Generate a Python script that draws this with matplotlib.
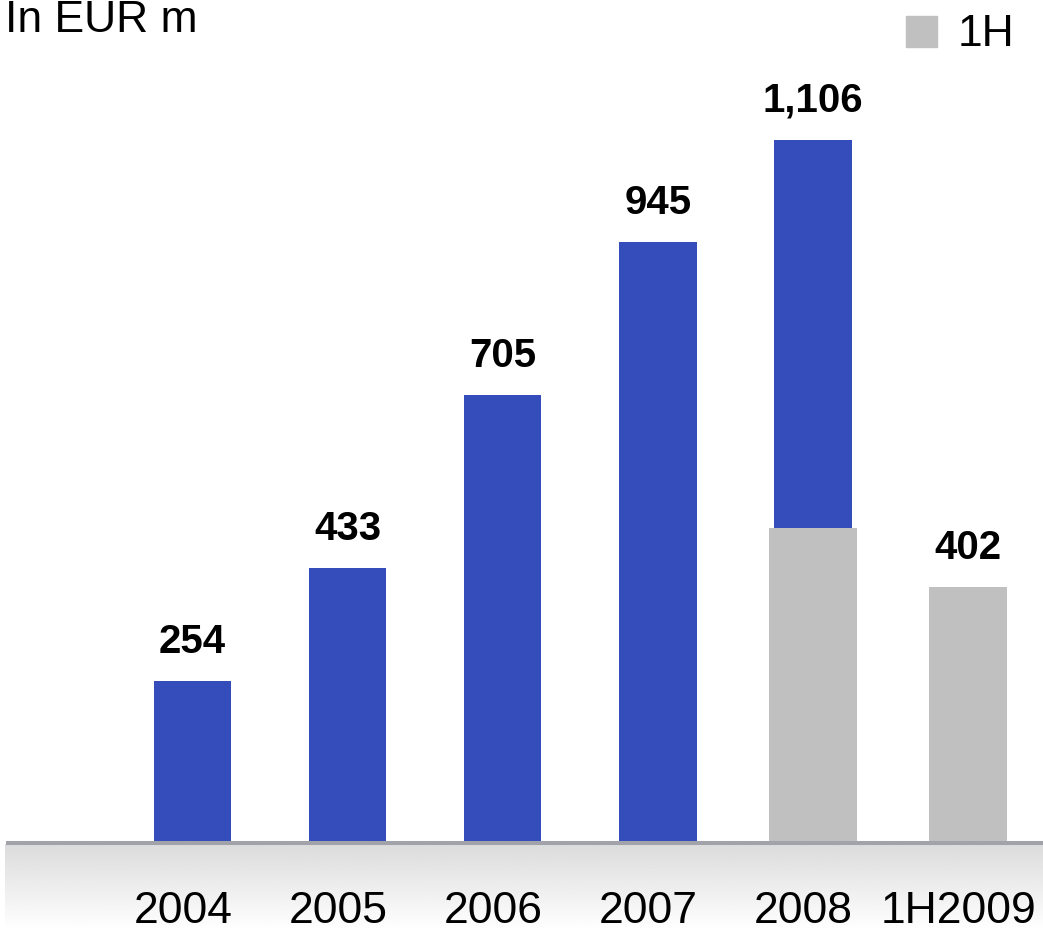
import numpy as np
import matplotlib.pyplot as plt

plt.rcParams['font.family'] = ['Liberation Sans', 'DejaVu Sans']

# Data
categories = ['2004', '2005', '2006', '2007', '2008', '1H2009']
full_year = [254, 433, 705, 945, 1106]
half_year_cats = ['2008', '1H2009']
half_year = [495, 402]
value_labels = ['254', '433', '705', '945', '1,106', '402']

blue = '#344dba'
grey = '#c0c0c0'

fig = plt.figure(figsize=(10.43, 9.3), dpi=100)
ax = fig.add_axes([0, 0, 1, 1])
ax.set_xlim(-1.241, 5.484)
ax.set_ylim(-136.8, 1325.5)
ax.axis('off')

x = np.arange(len(categories))
ax.bar(x[:5], full_year, width=0.5, color=blue, zorder=2)
hx = [categories.index(c) for c in half_year_cats]
ax.bar(hx, half_year, width=[0.57, 0.5], color=grey, zorder=3)

# value labels
tops = full_year + [half_year[-1]]
for xi, v, lab in zip(x, tops, value_labels):
    ax.text(xi, v + 44, lab, ha='center', va='baseline', fontsize=29,
            fontweight='bold')

# baseline and gradient band
ax.plot([-1.2, 5.484], [0, 0], color='#a2a2aa', lw=2.9, zorder=4,
        solid_capstyle='butt')
grad = np.linspace(0.86, 1.0, 100).reshape(-1, 1)
ax.imshow(grad, extent=[-1.21, 5.484, -136.8, -3], aspect='auto',
          cmap='gray', vmin=0, vmax=1, zorder=1)

for xi, lab in zip(x, categories):
    ax.text(xi - 0.06, -107, lab, ha='center', va='center', fontsize=32)

fig.text(0.005, 1 - 20 / 930, 'In EUR m', ha='left', va='center', fontsize=32)
fig.patches.append(plt.Rectangle((906 / 1043, 1 - 47 / 930), 31 / 1043, 31 / 930,
                                 transform=fig.transFigure, color=grey))
fig.text(958 / 1043, 1 - 34 / 930, '1H', ha='left', va='center', fontsize=32)

fig.savefig('out.png', dpi=100)
